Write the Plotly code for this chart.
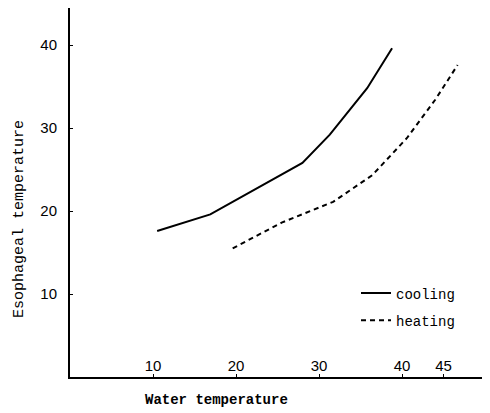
import plotly.graph_objects as go

# Data
cooling_x = [10.5, 16.9, 28.0, 31.3, 35.8, 38.8]
cooling_y = [17.6, 19.6, 25.8, 29.2, 34.8, 39.6]
heating_x = [19.6, 25.5, 31.7, 36.4, 40.6, 44.0, 46.7]
heating_y = [15.5, 18.6, 21.1, 24.3, 28.8, 33.4, 37.6]

x_ticks = [10, 20, 30, 40, 45]
y_ticks = [10, 20, 30, 40]

mono = "Liberation Mono"
sans = "Liberation Sans"

# page is rendered with an 8px body margin; figure is sized to fit the window
W, H = 482, 405
L, R, T, B = 62, 0, 0, 36
PW, PH = W - L - R, H - T - B

fig = go.Figure()
fig.add_trace(go.Scatter(x=cooling_x, y=cooling_y, mode="lines", name="cooling",
                         legendgroup="a",
                         line=dict(color="black", width=2, dash="solid")))
fig.add_trace(go.Scatter(x=heating_x, y=heating_y, mode="lines", name="heating",
                         legendgroup="b",
                         line=dict(color="black", width=2, dash="5px,4px")))

fig.update_layout(
    width=W, height=H,
    margin=dict(l=L, r=R, t=T, b=B, autoexpand=False),
    paper_bgcolor="white", plot_bgcolor="white",
    showlegend=True,
    legend=dict(x=(348 - L) / PW, y=(369 - 299) / PH, xanchor="left", yanchor="middle",
                font=dict(family=mono, size=14, color="black"),
                bgcolor="rgba(0,0,0,0)", tracegroupgap=6,
                traceorder="grouped"),
    xaxis=dict(range=[0, 50.6], showline=True, linecolor="black", linewidth=2,
               showgrid=False, zeroline=False, tickmode="array",
               tickvals=x_ticks, ticktext=[str(v) for v in x_ticks],
               ticks="inside", ticklen=3, tickcolor="black",
               ticklabelposition="inside",
               tickfont=dict(family=sans, size=15, color="black")),
    yaxis=dict(range=[0, 44.46], showline=True, linecolor="black", linewidth=2,
               showgrid=False, zeroline=False, tickmode="array",
               tickvals=y_ticks, ticktext=[str(v) for v in y_ticks],
               ticks="inside", ticklen=3, tickcolor="black",
               ticklabelstandoff=8,
               tickfont=dict(family=sans, size=15, color="black")),
    annotations=[
        dict(text="<b>Water temperature</b>", xref="paper", yref="paper",
             x=(216 - 8 - L) / PW, y=-23 / PH, xanchor="center", yanchor="middle",
             showarrow=False, font=dict(family=mono, size=14, color="black")),
        dict(text="Esophageal temperature", xref="paper", yref="paper",
             x=(19 - 8 - L) / PW, y=(369 - (219 - 8)) / PH, xanchor="center", yanchor="middle",
             textangle=-90, showarrow=False,
             font=dict(family=mono, size=15, color="black")),
    ],
)

fig.write_html("out.html")
